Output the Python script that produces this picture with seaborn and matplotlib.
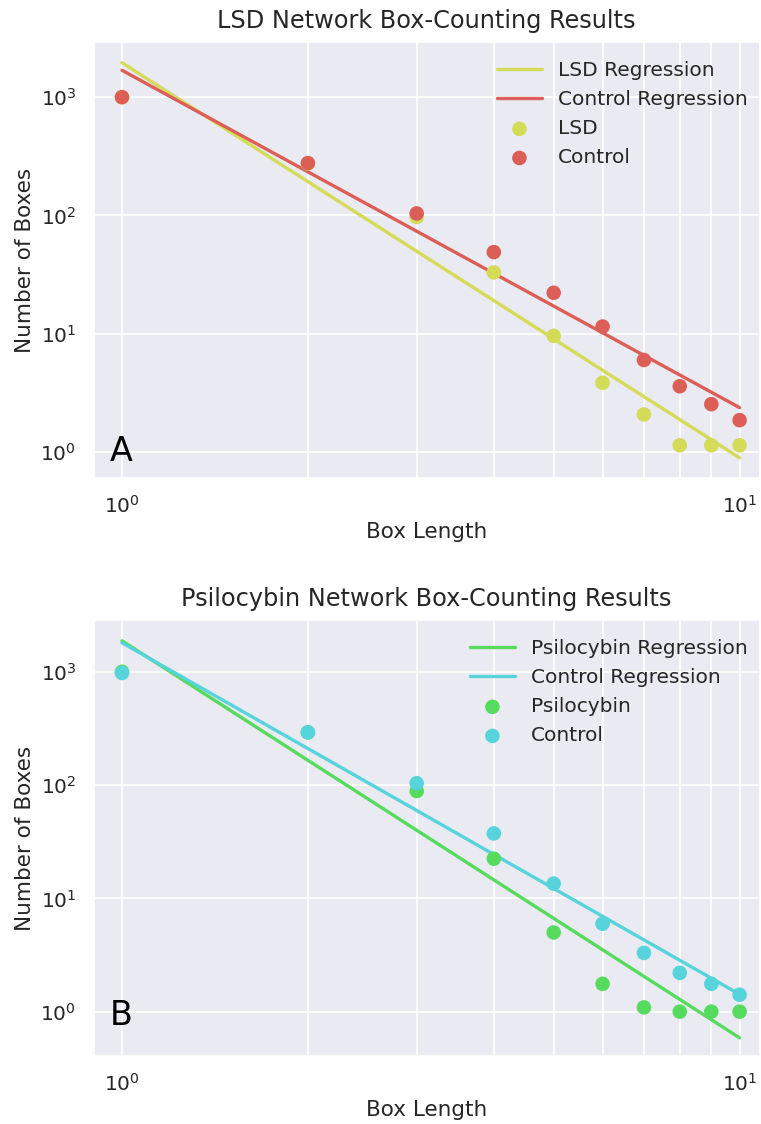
import numpy as np
import pandas as pd
import seaborn as sns
import matplotlib
matplotlib.use("Agg")
import matplotlib.pyplot as plt
from matplotlib.ticker import NullFormatter

# ---- data ----
box_length = [1, 2, 3, 4, 5, 6, 7, 8, 9, 10]
lsd_counts = [1000, 275, 97, 33, 9.6, 3.85, 2.08, 1.14, 1.14, 1.14]
lsd_control_counts = [1000, 277, 104, 49, 22.2, 11.5, 6.0, 3.6, 2.54, 1.86]
psilo_counts = [1000, 292, 88.5, 22.4, 5.0, 1.76, 1.09, 1.0, 1.0, 1.0]
psilo_control_counts = [975, 292, 104, 37.4, 13.5, 5.97, 3.3, 2.2, 1.76, 1.41]

panel_titles = ["LSD Network Box-Counting Results", "Psilocybin Network Box-Counting Results"]
panel_letters = ["A", "B"]
drug_names = ["LSD", "Psilocybin"]

sns.set_theme(style="darkgrid")
plt.rcParams['font.family'] = ['DejaVu Sans']

pal = sns.color_palette("hls", 6)
red, yellow, green, cyan = pal[0], pal[1], pal[2], pal[3]

fig = plt.figure(figsize=(7.61, 11.24), dpi=100)
ax1 = fig.add_axes([0.122, 0.5747, 0.877, 0.3879])
ax2 = fig.add_axes([0.122, 0.0605, 0.877, 0.3879])

panels = [
    (ax1, lsd_counts, lsd_control_counts, yellow, red, (0.603, 2924), 0.039),
    (ax2, psilo_counts, psilo_control_counts, green, cyan, (0.406, 2865), 0.071),
]

x = np.array(box_length, dtype=float)
for i, (ax, drug, ctrl, cdrug, cctrl, ylim, letter_y) in enumerate(panels):
    name = drug_names[i]
    for vals, col, lab in [(drug, cdrug, f"{name} Regression"), (ctrl, cctrl, "Control Regression")]:
        slope, icpt = np.polyfit(np.log10(x), np.log10(vals), 1)
        fit = 10 ** (icpt + slope * np.log10(x))
        sns.lineplot(x=x, y=fit, color=col, lw=2.4, label=lab, ax=ax)
    sns.scatterplot(x=x, y=drug, color=cdrug, s=110, edgecolor="none", label=name, ax=ax, zorder=3)
    sns.scatterplot(x=x, y=ctrl, color=cctrl, s=110, edgecolor="none", label="Control", ax=ax, zorder=3)
    ax.set_xscale("log")
    ax.set_yscale("log")
    ax.set_xlim(0.897, 10.8)
    ax.set_ylim(*ylim)
    ax.xaxis.set_minor_formatter(NullFormatter())
    ax.grid(True, which="major", color="white", lw=1.2)
    ax.grid(True, which="minor", axis="x", color="white", lw=1.2)
    ax.set_title(panel_titles[i], fontsize=17.3, color="#262626", pad=10)
    ax.set_xlabel("Box Length", fontsize=15.5, color="#262626")
    ax.set_ylabel("Number of Boxes", fontsize=15.5, color="#262626")
    ax.tick_params(axis="both", which="major", labelsize=14.5, colors="#262626", pad=6)
    ax.legend(loc="upper right", bbox_to_anchor=(1.008, 0.998), frameon=False,
              fontsize=14.5, handlelength=2.2)
    ax.text(0.025, letter_y, panel_letters[i], transform=ax.transAxes, fontsize=24, color="black")

fig.savefig("out.png", dpi=100)
